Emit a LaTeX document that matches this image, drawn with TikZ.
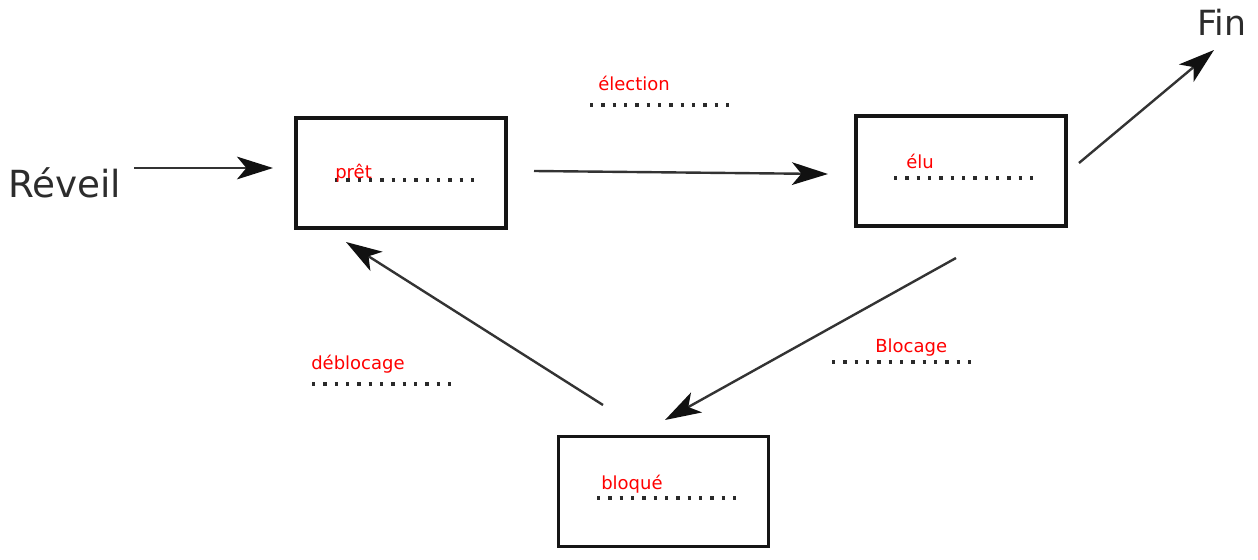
\documentclass[tikz,border=0pt]{standalone}
\usepackage{fontspec}
\setmainfont{DejaVu Sans}
\usetikzlibrary{arrows.meta}
\definecolor{ink}{HTML}{151515}
\definecolor{wire}{HTML}{333333}
\definecolor{head}{HTML}{111111}
\definecolor{dotc}{HTML}{2A2A2A}
\definecolor{lab}{HTML}{FF0000}
\begin{document}
\begin{tikzpicture}[x=0.75pt,y=-0.75pt,
  statebox/.style={draw=ink,line width=2.3pt,fill=white,minimum width=157.5pt,minimum height=82.5pt,inner sep=0pt},
  flow/.style={draw=wire,line width=1.8pt,-{Stealth[length=27pt,width=17pt,inset=7pt,color=head]}},
  dots/.style={draw=dotc,line width=2.5pt,dash pattern=on 2.5pt off 6pt},
  redlab/.style={text=lab,font=\fontsize{13.5pt}{15pt}\selectfont,anchor=base west,inner sep=0pt},
  biglab/.style={text=ink!90,anchor=base west,inner sep=0pt}]
\useasboundingbox (0,0) rectangle (1258,560);

% states
\node[statebox] (pret) at (401,173) {};
\node[statebox] (elu) at (961,171) {};
\node[statebox] (bloque) at (663.5,491.5) {};

% entry and exit labels
\node[biglab,font=\fontsize{28pt}{30pt}\selectfont] (reveil) at (8,197) {Réveil};
\node[biglab,font=\fontsize{26pt}{28pt}\selectfont] (fin) at (1197,36) {Fin};

% arrow end points
\coordinate (r0) at (134,168);
\coordinate (r1) at (273,168);
\coordinate (e0) at (534,171);
\coordinate (e1) at (828,174);
\coordinate (f0) at (1079,163);
\coordinate (f1) at (1214,50);
\coordinate (b0) at (956,258);
\coordinate (b1) at (665,420);
\coordinate (d0) at (603,405);
\coordinate (d1) at (346,242);

\draw[flow] (r0) -- (r1);
\draw[flow] (e0) -- (e1);
\draw[flow] (f0) -- (f1);
\draw[flow] (b0) -- (b1);
\draw[flow] (d0) -- (d1);

% dotted blanks, thirteen dots each
\coordinate (p0) at (335,180); \coordinate (p1) at (474,180);
\coordinate (l0) at (590,105); \coordinate (l1) at (729,105);
\coordinate (u0) at (894,178); \coordinate (u1) at (1033,178);
\coordinate (k0) at (832,362); \coordinate (k1) at (971,362);
\coordinate (g0) at (312,384); \coordinate (g1) at (451,384);
\coordinate (q0) at (597,498); \coordinate (q1) at (736,498);
\draw[dots] (p0) -- (p1);
\draw[dots] (l0) -- (l1);
\draw[dots] (u0) -- (u1);
\draw[dots] (k0) -- (k1);
\draw[dots] (g0) -- (g1);
\draw[dots] (q0) -- (q1);

% red labels
\node[redlab] (tpret) at (335,178) {prêt};
\node[redlab] (telection) at (598,91) {élection};
\node[redlab] (telu) at (906,169) {élu};
\node[redlab] (tblocage) at (875,352) {Blocage};
\node[redlab] (tdeblocage) at (311,369) {déblocage};
\node[redlab] (tbloque) at (601,489) {bloqué};
\end{tikzpicture}
\end{document}
